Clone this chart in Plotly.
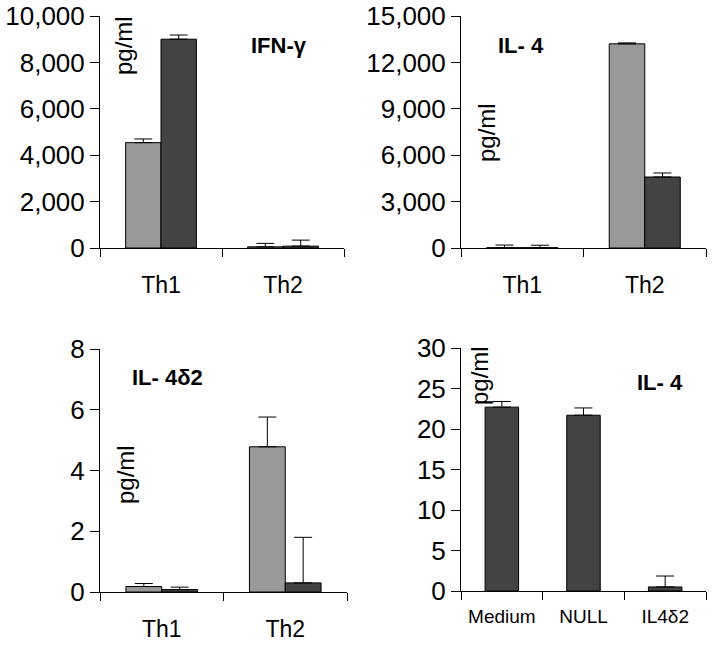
import plotly.graph_objects as go

# ---- data ----
cats_th = ["Th1", "Th2"]
ifn_light = [4540, 50]
ifn_light_err = [160, 150]
ifn_dark = [9000, 80]
ifn_dark_err = [180, 260]

il4_light = [20, 13200]
il4_light_err = [170, 60]
il4_dark = [20, 4590]
il4_dark_err = [160, 260]

d2_light = [0.18, 4.78]
d2_light_err = [0.1, 0.98]
d2_dark = [0.08, 0.3]
d2_dark_err = [0.08, 1.5]

cats_4 = ["Medium", "NULL", "IL4δ2"]
p4_vals = [22.7, 21.7, 0.5]
p4_err = [0.7, 0.9, 1.35]

LIGHT = "#999999"
DARK = "#434343"
FONT = "Arial, Liberation Sans, sans-serif"
W, H = 714, 646


def px_x(p):
    return p / W


def px_y(p):
    return 1 - p / H


def bar(x, y, err, color, xa, ya, width=None):
    return go.Bar(
        x=x, y=y, xaxis=xa, yaxis=ya, width=width,
        marker=dict(color=color, line=dict(color="black", width=1)),
        error_y=dict(type="data", symmetric=False, array=err,
                     arrayminus=[0] * len(err), color="black",
                     thickness=1, width=9),
        showlegend=False,
    )


fig = go.Figure()
fig.add_trace(bar(cats_th, ifn_light, ifn_light_err, LIGHT, "x", "y"))
fig.add_trace(bar(cats_th, ifn_dark, ifn_dark_err, DARK, "x", "y"))
fig.add_trace(bar(cats_th, il4_light, il4_light_err, LIGHT, "x2", "y2"))
fig.add_trace(bar(cats_th, il4_dark, il4_dark_err, DARK, "x2", "y2"))
fig.add_trace(bar(cats_th, d2_light, d2_light_err, LIGHT, "x3", "y3"))
fig.add_trace(bar(cats_th, d2_dark, d2_dark_err, DARK, "x3", "y3"))
fig.add_trace(bar(cats_4, p4_vals, p4_err, DARK, "x4", "y4", width=0.41))

common_x = dict(type="category", showgrid=False, zeroline=False, showline=True,
                linecolor="black", linewidth=1, ticks="outside", tickcolor="black",
                ticklen=8, tickson="boundaries", automargin=False,
                tickfont=dict(family=FONT, size=23, color="black"),
                ticklabelstandoff=16)
common_y = dict(showgrid=False, zeroline=False, showline=True, linecolor="black",
                linewidth=1, ticks="outside", tickcolor="black", ticklen=9,
                automargin=False, ticklabeloverflow="allow",
                tickfont=dict(family=FONT, size=26, color="black"), tickformat=",d")

top_dom = [px_y(248), px_y(16)]
bot_dom = [px_y(592), px_y(349)]

fig.update_layout(
    width=W, height=H, margin=dict(l=0, r=0, t=0, b=0, autoexpand=False),
    paper_bgcolor="white", plot_bgcolor="white",
    barmode="group", bargap=0.42, bargroupgap=0,
    showlegend=False,
    xaxis=dict(common_x, domain=[px_x(100), px_x(344)], anchor="y", range=[-0.5, 1.5]),
    yaxis=dict(common_y, domain=top_dom, anchor="x", range=[0, 10000], dtick=2000),
    xaxis2=dict(common_x, domain=[px_x(461), px_x(706)], anchor="y2", range=[-0.5, 1.5]),
    yaxis2=dict(common_y, domain=top_dom, anchor="x2", range=[0, 15000], dtick=3000),
    xaxis3=dict(common_x, domain=[px_x(100), px_x(347)], anchor="y3", range=[-0.5, 1.5]),
    yaxis3=dict(common_y, domain=bot_dom, anchor="x3", range=[0, 8], dtick=2),
    xaxis4=dict(common_x, domain=[px_x(461), px_x(706)], anchor="y4", range=[-0.5, 2.5],
                tickfont=dict(family=FONT, size=19, color="black"), ticklabelstandoff=8),
    yaxis4=dict(common_y, domain=[px_y(591), px_y(348)], anchor="x4", range=[0, 30], dtick=5),
)


def ann(text, x, y, size, bold=False, angle=0):
    return dict(text=f"<b>{text}</b>" if bold else text, x=px_x(x), y=px_y(y),
                xref="paper", yref="paper", showarrow=False, textangle=angle,
                xanchor="center", yanchor="middle",
                font=dict(family=FONT, size=size, color="black"))


fig.update_layout(annotations=[
    ann("pg/ml", 123, 46, 24, angle=-90),
    ann("IFN-γ", 279, 45, 22, bold=True),
    ann("pg/ml", 487, 133, 24, angle=-90),
    ann("IL- 4", 521, 45, 22, bold=True),
    ann("pg/ml", 125, 474, 24, angle=-90),
    ann("IL- 4δ2", 167, 377, 22, bold=True),
    ann("pg/ml", 480, 376, 24, angle=-90),
    ann("IL- 4", 660, 382, 22, bold=True),
])

fig.write_html("out.html", config={"displayModeBar": False},
               post_script="document.body.style.margin='0';")
